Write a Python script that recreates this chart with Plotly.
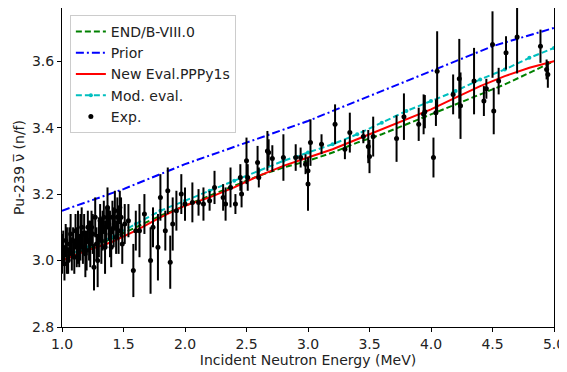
import plotly.graph_objects as go

# ---------------- data ----------------
grid_e = [1.0, 1.2, 1.4, 1.6, 1.8, 2.0, 2.2, 2.4, 2.6, 2.8, 3.0, 3.2, 3.4, 3.6, 3.8, 4.0, 4.2, 4.4, 4.6, 4.8, 5.0]
endf_nu = [3.00, 3.035, 3.065, 3.10, 3.135, 3.165, 3.195, 3.225, 3.255, 3.28, 3.30, 3.325, 3.355, 3.38, 3.41, 3.44, 3.47, 3.50, 3.53, 3.565, 3.60]
new_nu = [3.00, 3.03, 3.055, 3.09, 3.13, 3.165, 3.19, 3.22, 3.255, 3.285, 3.31, 3.335, 3.365, 3.395, 3.425, 3.455, 3.49, 3.525, 3.555, 3.58, 3.60]
mod_nu = [3.01, 3.04, 3.07, 3.11, 3.15, 3.18, 3.21, 3.24, 3.27, 3.30, 3.325, 3.35, 3.38, 3.415, 3.45, 3.48, 3.51, 3.545, 3.575, 3.61, 3.64]

prior_e = [1.0, 1.5, 2.0, 2.5, 3.0, 3.5, 4.0, 4.5, 5.0]
prior_nu = [3.15, 3.215, 3.29, 3.355, 3.42, 3.495, 3.57, 3.645, 3.70]

exp_e = [1.00, 1.01, 1.02, 1.03, 1.04, 1.05, 1.06, 1.07, 1.08, 1.09, 1.10, 1.11, 1.12, 1.13, 1.14, 1.15,
         1.16, 1.17, 1.18, 1.19, 1.20, 1.21, 1.22, 1.23, 1.24, 1.25, 1.26, 1.27, 1.28, 1.29, 1.30, 1.31,
         1.32, 1.33, 1.34, 1.35, 1.36, 1.37, 1.38, 1.39, 1.40, 1.41, 1.42, 1.43, 1.44, 1.45, 1.46, 1.47,
         1.48, 1.49, 1.51, 1.54, 1.58, 1.60, 1.63, 1.67, 1.72, 1.74, 1.78, 1.80, 1.84, 1.86, 1.88, 1.90,
         1.93, 1.97, 2.00, 2.06, 2.11, 2.15, 2.20, 2.24, 2.31, 2.33, 2.37, 2.41, 2.45, 2.46, 2.50, 2.51,
         2.59, 2.60, 2.67, 2.68, 2.71, 2.80, 2.90, 2.94, 2.98, 3.00, 3.00, 3.02, 3.11, 3.22, 3.30, 3.34,
         3.45, 3.49, 3.50, 3.53, 3.72, 3.78, 3.90, 3.94, 3.95, 4.02, 4.04, 4.05, 4.18, 4.23, 4.24, 4.35,
         4.43, 4.45, 4.50, 4.51, 4.55, 4.61, 4.70, 4.89, 4.94, 4.95]
exp_nu = [3.02, 3.04, 2.99, 3.06, 3.03, 3.00, 3.05, 3.08, 3.02, 3.06, 3.01, 3.09, 3.04, 3.07, 3.03, 3.07,
          3.10, 3.04, 3.08, 3.02, 3.03, 3.10, 3.06, 3.05, 3.10, 3.08, 2.98, 3.13, 3.05, 3.00, 3.07, 3.12,
          3.06, 3.09, 3.13, 3.04, 3.10, 3.16, 3.11, 3.08, 3.04, 3.13, 3.10, 3.15, 3.07, 3.13, 3.09, 3.16,
          3.13, 3.05, 3.11, 3.12, 2.97, 3.09, 3.09, 3.14, 3.00, 3.10, 3.04, 3.19, 3.09, 3.21, 2.995, 3.11,
          3.15, 3.20, 3.17, 3.175, 3.175, 3.17, 3.18, 3.22, 3.19, 3.17, 3.22, 3.17, 3.25, 3.20, 3.30, 3.25,
          3.295, 3.25, 3.33, 3.325, 3.307, 3.31, 3.31, 3.31, 3.29, 3.27, 3.23, 3.355, 3.35, 3.41, 3.335, 3.385,
          3.373, 3.343, 3.313, 3.373, 3.367, 3.433, 3.41, 3.44, 3.448, 3.31, 3.445, 3.57, 3.50, 3.547, 3.466, 3.54,
          3.48, 3.517, 3.65, 3.45, 3.54, 3.625, 3.673, 3.645, 3.575, 3.56]
exp_err = [0.06, 0.05, 0.05, 0.05, 0.07, 0.04, 0.05, 0.06, 0.05, 0.04, 0.05, 0.05, 0.06, 0.08, 0.05, 0.07,
           0.06, 0.05, 0.06, 0.07, 0.06, 0.05, 0.06, 0.07, 0.05, 0.06, 0.07, 0.06, 0.05, 0.08, 0.06, 0.05,
           0.07, 0.06, 0.05, 0.08, 0.06, 0.06, 0.05, 0.07, 0.06, 0.05, 0.06, 0.06, 0.05, 0.06, 0.07, 0.05,
           0.06, 0.06, 0.06, 0.05, 0.08, 0.06, 0.08, 0.06, 0.10, 0.06, 0.10, 0.07, 0.06, 0.07, 0.08, 0.08,
           0.06, 0.06, 0.05, 0.06, 0.04, 0.05, 0.03, 0.05, 0.04, 0.05, 0.06, 0.03, 0.04, 0.04, 0.07, 0.04,
           0.05, 0.03, 0.06, 0.04, 0.04, 0.07, 0.04, 0.03, 0.03, 0.04, 0.08, 0.07, 0.03, 0.06, 0.03, 0.06,
           0.02, 0.05, 0.05, 0.06, 0.07, 0.07, 0.05, 0.06, 0.05, 0.06, 0.04, 0.12, 0.06, 0.12, 0.10, 0.10,
           0.045, 0.03, 0.10, 0.07, 0.04, 0.05, 0.11, 0.05, 0.03, 0.04]

x_ticks = [1.0, 1.5, 2.0, 2.5, 3.0, 3.5, 4.0, 4.5, 5.0]
y_ticks = [2.8, 3.0, 3.2, 3.4, 3.6]

# ---------------- figure ----------------
FONT = "DejaVu Sans"
FS = 14
fig = go.Figure()

fig.add_trace(go.Scatter(x=grid_e, y=endf_nu, mode="lines", name="END/B-VIII.0",
                         line=dict(color="#008000", width=2, dash="6px,3px"), legendrank=1))
fig.add_trace(go.Scatter(x=prior_e, y=prior_nu, mode="lines", name="Prior",
                         line=dict(color="#0000ff", width=2, dash="8px,3px,2px,3px"), legendrank=2))
fig.add_trace(go.Scatter(x=grid_e, y=new_nu, mode="lines", name="New Eval.PPPy1s",
                         line=dict(color="#ff0000", width=2), legendrank=3))
fig.add_trace(go.Scatter(x=grid_e, y=mod_nu, mode="lines+markers", name="Mod. eval.",
                         line=dict(color="#00bfbf", width=2, dash="6px,3px"),
                         marker=dict(color="#00bfbf", size=4), legendrank=4))
fig.add_trace(go.Scatter(x=exp_e, y=exp_nu, mode="markers", name="Exp.",
                         marker=dict(color="black", size=5),
                         error_y=dict(type="data", array=exp_err, color="black", thickness=2, width=0),
                         legendrank=5))

axis_common = dict(showline=True, linecolor="black", linewidth=1, mirror=True,
                   ticks="outside", ticklen=4, tickcolor="black", showgrid=False, zeroline=False,
                   automargin=False, ticklabeloverflow="allow",
                   tickfont=dict(family=FONT, size=FS, color="#222"))

# the page body carries an 8px default margin, so the figure is sized to fit the window
fig.update_layout(
    width=559, height=364,
    margin=dict(l=54, r=13, t=0, b=45),
    plot_bgcolor="white", paper_bgcolor="white",
    font=dict(family=FONT, size=FS, color="#222"),
    showlegend=True,
    legend=dict(x=0.016, y=0.978, xanchor="left", yanchor="top",
                bgcolor="rgba(255,255,255,0.85)", bordercolor="#cccccc", borderwidth=1,
                font=dict(family=FONT, size=FS, color="#222"), tracegroupgap=0),
    xaxis=dict(range=[1.0, 5.0], tickvals=x_ticks, tickformat=".1f",
               title=dict(text="Incident Neutron Energy (MeV)", standoff=2,
                          font=dict(family=FONT, size=FS)), **axis_common),
    yaxis=dict(range=[2.8, 3.76], tickvals=y_ticks, tickformat=".1f",
               title=dict(text="Pu-239 \u03bd\u0305 (n/f)", standoff=4,
                          font=dict(family=FONT, size=FS)), **axis_common),
)

fig.write_html("out.html")
